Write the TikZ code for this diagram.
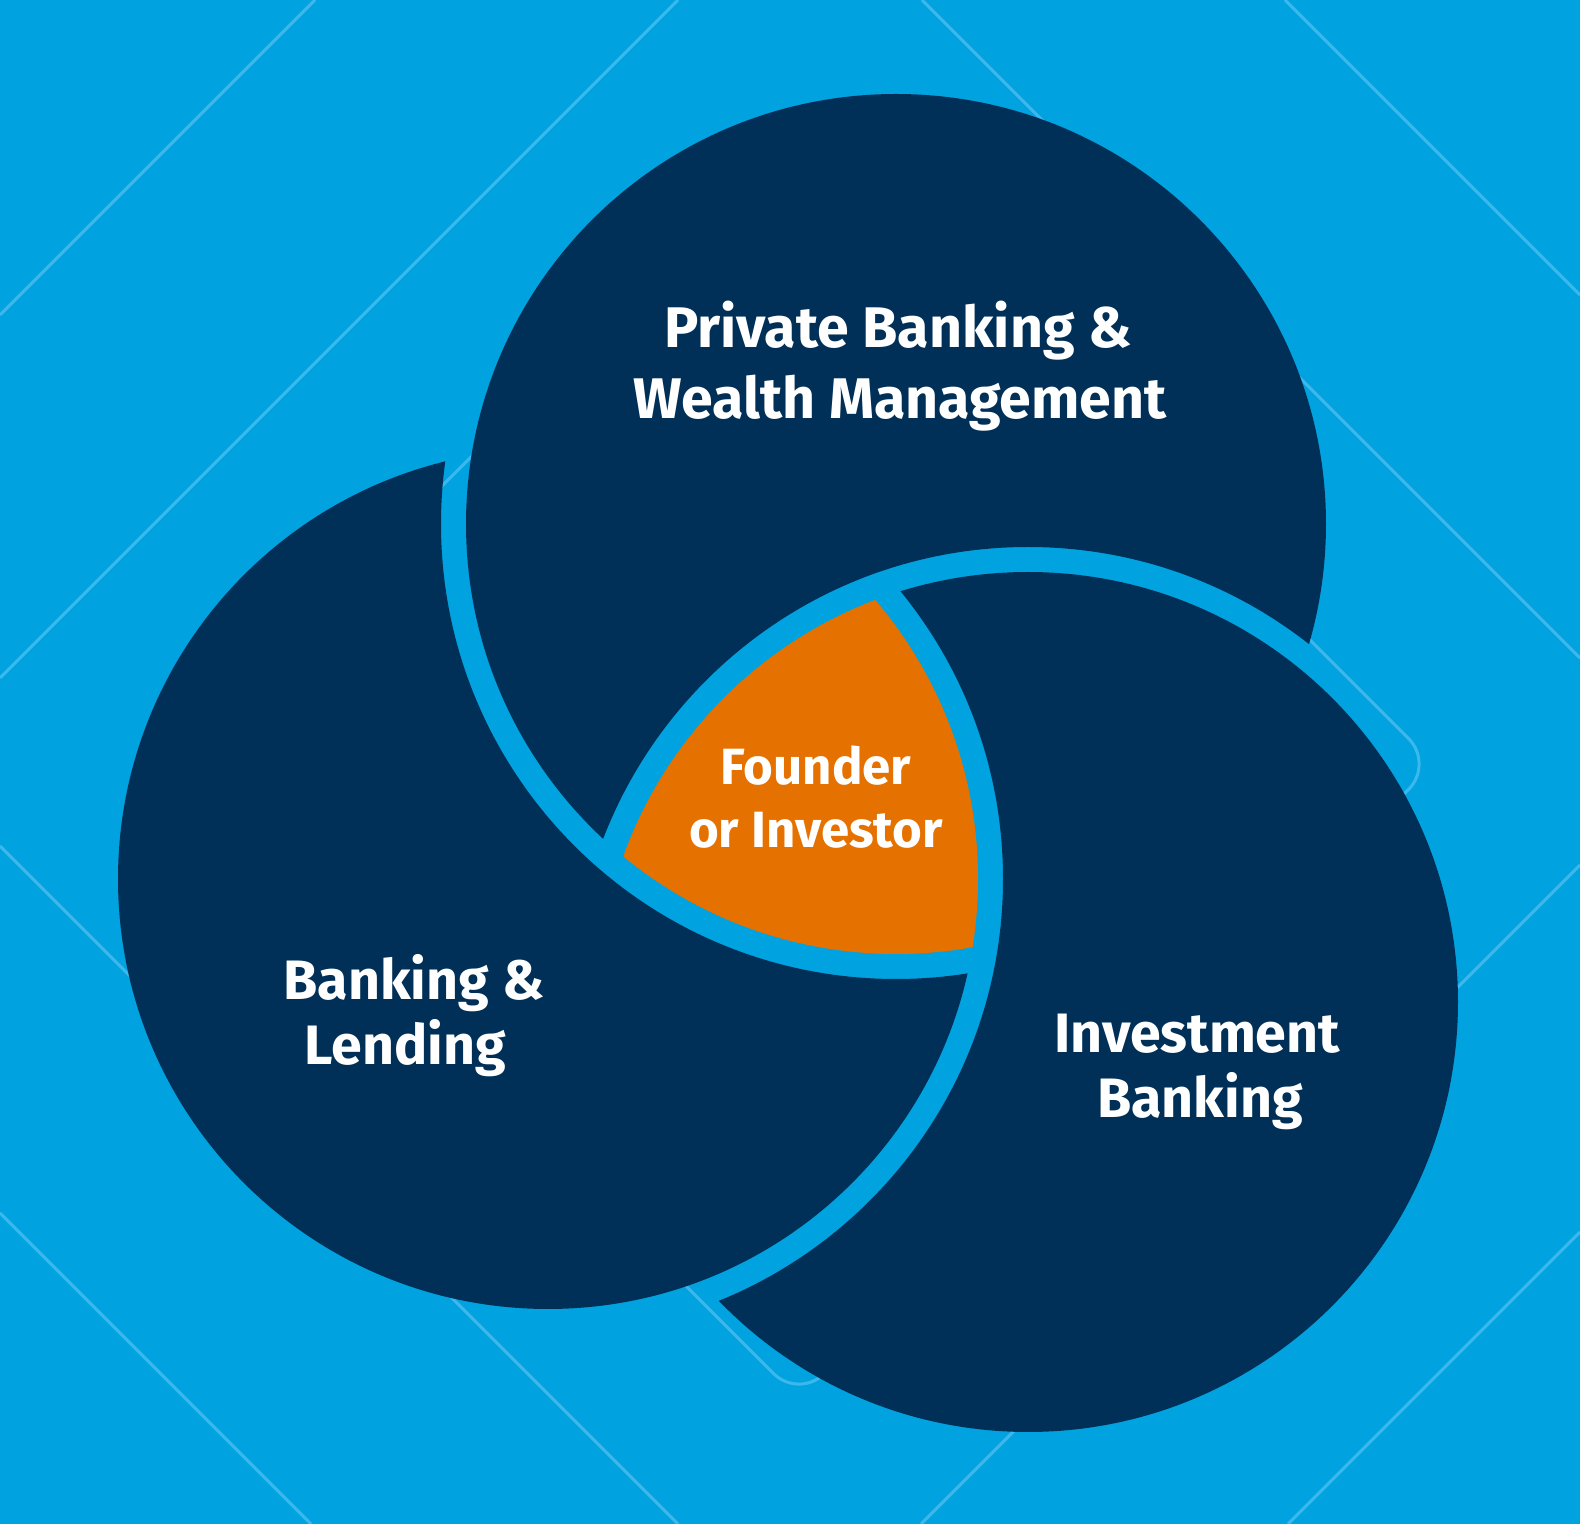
\documentclass[tikz,border=0pt]{standalone}
\usepackage{fontspec}
\setmainfont{Fira Sans}
\definecolor{skybg}{HTML}{00A3E0}
\definecolor{skyline}{HTML}{3DB8EC}
\definecolor{navy}{HTML}{003057}
\definecolor{founder}{HTML}{E57200}

\begin{document}
\begin{tikzpicture}[x=0.1mm, y=-0.1mm,
    bgline/.style={draw=skyline, line width=0.3mm},
    areatext/.style={text=white, anchor=base, inner sep=0pt, font=\bfseries\fontsize{15.8}{18}\selectfont},
    toptext/.style={areatext, font=\bfseries\fontsize{16.3}{19}\selectfont},
    coretext/.style={areatext, font=\bfseries\fontsize{14.5}{17}\selectfont}]
  \def\rad{43mm}
  \def\gap{45.5mm}
  % Background
  \fill[skybg] (0,0) rectangle (1580,1524);
  \useasboundingbox (0,0) rectangle (1580,1524);

  % Diagonal lines
  \foreach \xa/\ya/\xb/\yb in {315/0/0/315, 678/0/0/678, 922/0/1580/658, 1285/0/1580/295,
      0/846/678/1524, 0/1213/311/1524, 1580/865/921/1524, 1580/1232/1288/1524}
    \draw[bgline] (\xa,\ya) -- (\xb,\yb);

  % Rounded square behind the circles
  \draw[bgline, rounded corners=3.6mm] (799,129) -- (1434,764) -- (799,1399) -- (164,764) -- cycle;

  % Circle centres
  \coordinate (pbwm) at (896,524);
  \coordinate (bl) at (548,879);
  \coordinate (ib) at (1028,1002);

  % Each circle cut by the gap round the one lying over it
  \foreach \ca/\cb in {bl/pbwm, pbwm/ib, ib/bl} {
    \begin{scope}
      \clip (\ca) circle (\rad);
      \fill[navy, even odd rule] (-50,-50) rectangle (1630,1574) (\cb) circle (\gap);
    \end{scope}
  }

  % Centre overlap
  \begin{scope}
    \clip (pbwm) circle (\rad);
    \clip (bl) circle (\rad);
    \fill[founder] (ib) circle (\rad);
  \end{scope}

  % Labels
  \node[toptext] (pb1) at (898,348) {Private Banking \&};
  \node[toptext] (pb2) at (900,419) {Wealth Management};
  \node[areatext] (bl1) at (414,1000) {Banking \&};
  \node[areatext] (bl2) at (405,1065) {Lending};
  \node[areatext] (ib1) at (1197,1053) {Investment};
  \node[areatext] (ib2) at (1200,1118) {Banking};
  \node[coretext] (fo1) at (816,785) {Founder};
  \node[coretext] (fo2) at (816,848) {or Investor};
\end{tikzpicture}
\end{document}
